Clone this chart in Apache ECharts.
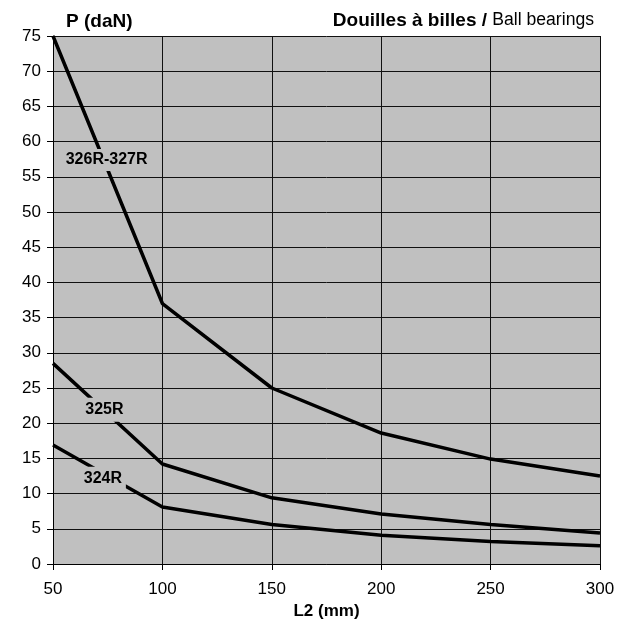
<!DOCTYPE html>
<html><head><meta charset="utf-8">
<script src="https://cdn.jsdelivr.net/npm/echarts@6/dist/echarts.min.js"></script>
<style>html,body{margin:0;padding:0;background:#fff}#c{width:631px;height:623px}</style>
</head><body><div id="c"></div>
<script>
const xValues = [50, 100, 150, 200, 250, 300];
const s326 = [75, 37, 25, 18.6, 14.9, 12.5];
const s325 = [28.5, 14.2, 9.4, 7.1, 5.6, 4.4];
const s324 = [16.9, 8.1, 5.6, 4.1, 3.2, 2.6];
const seriesNames = ['326R-327R', '325R', '324R'];
const labelAnchors = [[74.5, 57.4], [73.5, 21.9], [72.8, 12.1]];
const font = 'Liberation Sans, Arial, sans-serif';
const labelBoxes = [[88, 22], [46, 24], [46, 24]];

const chart = echarts.init(document.getElementById('c'));
function line(idx, vals) {
  return {
    name: seriesNames[idx], type: 'line', data: xValues.map((x, i) => [x, vals[i]]),
    symbol: 'none', lineStyle: { color: '#000', width: 3.5 }, z: 3
  };
}
chart.setOption({
  animation: false,
  textStyle: { fontFamily: font },
  grid: { left: 53, right: 31, top: 36, bottom: 59, containLabel: false, outerBoundsMode: 'none',
    show: true, backgroundColor: '#c0c0c0', borderColor: '#999', borderWidth: 0 },
  title: [
    { text: 'P (daN)', left: 61, top: 7, textStyle: { fontFamily: font, fontSize: 19, fontWeight: 'bold', color: '#000' } },
    { text: '{b|Douilles à billes / }{n|Ball bearings}', right: 32, top: 6,
      textStyle: { fontWeight: 'normal', rich: { b: { fontFamily: font, fontSize: 19, fontWeight: 'bold', color: '#000' }, n: { fontFamily: font, fontSize: 17.6, fontWeight: 'normal', color: '#000' } } } }
  ],
  xAxis: {
    type: 'value', min: 50, max: 300, interval: 50,
    name: 'L2 (mm)', nameLocation: 'middle', nameGap: 35,
    nameTextStyle: { fontFamily: font, fontSize: 17, fontWeight: 'bold', color: '#000' },
    axisLine: { lineStyle: { color: '#000', width: 1 } },
    axisTick: { show: true, length: 6, lineStyle: { color: '#000' } },
    axisLabel: { fontFamily: font, fontSize: 17, color: '#000', margin: 17 },
    splitLine: { show: true, lineStyle: { color: '#111', width: 1 } }
  },
  yAxis: {
    type: 'value', min: 0, max: 75, interval: 5,
    axisLine: { show: true, lineStyle: { color: '#000', width: 1 } },
    axisTick: { show: true, length: 6, lineStyle: { color: '#000' } },
    axisLabel: { fontFamily: font, fontSize: 17, color: '#000', margin: 12 },
    splitLine: { show: true, lineStyle: { color: '#111', width: 1 } }
  },
  series: [
    line(0, s326), line(1, s325), line(2, s324),
    {
      type: 'scatter', zlevel: 1, z: 10, symbol: 'rect',
      data: labelAnchors.map((p, i) => ({ value: p, name: seriesNames[i], symbolSize: labelBoxes[i] })),
      itemStyle: { color: '#c0c0c0', opacity: 1 },
      emphasis: { disabled: true },
      label: { show: true, position: 'inside', formatter: p => p.name,
        fontFamily: font, fontSize: 16, fontWeight: 'bold', color: '#000' }
    }
  ]
});
</script></body></html>
